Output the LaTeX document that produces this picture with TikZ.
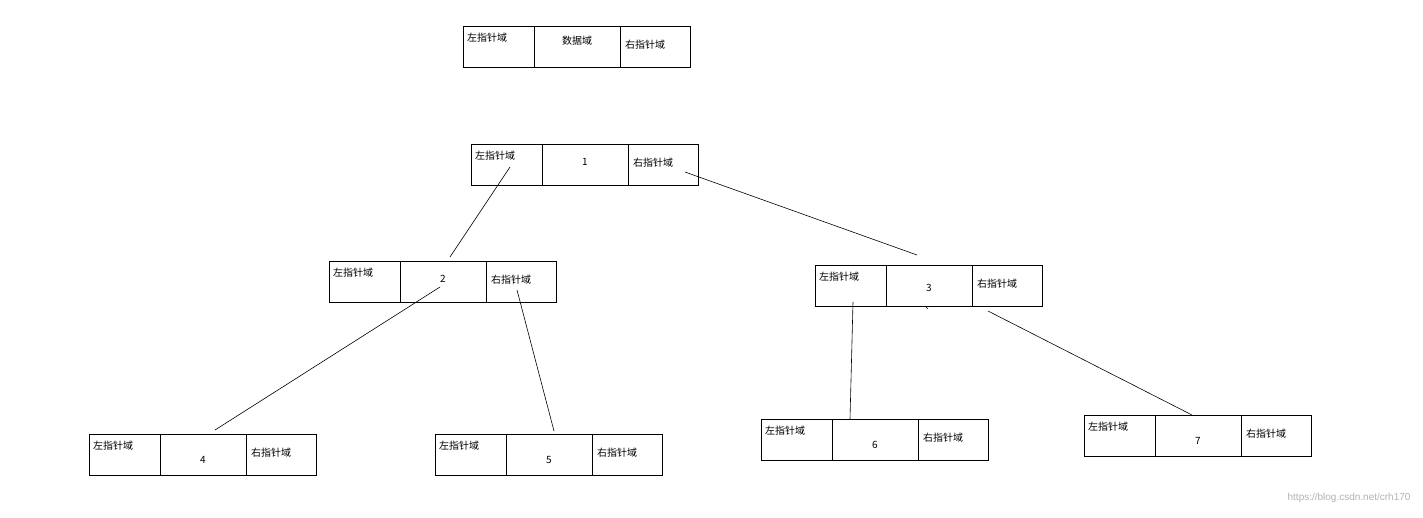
\documentclass[tikz,border=0pt]{standalone}
\usepackage{fontspec}
\newfontfamily\cjk{Noto Sans CJK SC}
\begin{document}
\begin{tikzpicture}[x=1pt,y=-1pt,
 cell/.style={draw,line width=0.8pt,minimum height=41pt,anchor=north west,inner sep=0pt},
 txt/.style={font=\cjk\fontsize{10}{12}\selectfont,inner sep=0pt},
 edge/.style={line width=0.6pt}]
\useasboundingbox (0,0) rectangle (1423,517);
\newcommand{\tbox}[5]{%
 \node[cell,minimum width=71pt] (#1l) at (#2,#3) {};
 \node[cell,minimum width=86pt] (#1m) at (#2+71,#3) {};
 \node[cell,minimum width=70pt] (#1r) at (#2+157,#3) {};
 \node[txt,anchor=west] (#1lt) at (#2+4,#3+12) {左指针域};
 \node[txt] (#1mt) at (#2+114,#3+#5) {#4};
 \node[txt,anchor=west] (#1rt) at (#2+162,#3+19) {右指针域};
}
\tbox{t}{463}{26}{数据域}{15}
\tbox{a}{471}{144}{1}{18}
\tbox{b}{329}{261}{2}{18}
\tbox{c}{815}{265}{3}{23}
\tbox{d}{89}{434}{4}{26}
\tbox{e}{435}{434}{5}{26}
\tbox{f}{761}{419}{6}{26}
\tbox{g}{1084}{415}{7}{26}
\coordinate (a1) at (510,167); \coordinate (b1) at (450,257);
\coordinate (a2) at (685,172); \coordinate (c1) at (917,255);
\coordinate (b2) at (440,287); \coordinate (d1) at (215,430);
\coordinate (b3) at (517,290); \coordinate (e1) at (554,431);
\coordinate (c2) at (853,302); \coordinate (f1) at (850,419);
\coordinate (c3) at (988,311); \coordinate (g1) at (1192,415);
\coordinate (c4) at (925,306); \coordinate (c5) at (928,309);
\draw[edge] (a1)--(b1); \draw[edge] (a2)--(c1); \draw[edge] (b2)--(d1);
\draw[edge] (b3)--(e1); \draw[edge] (c2)--(f1); \draw[edge] (c3)--(g1);
\draw[edge] (c4)--(c5);
\node[font=\fontspec{Liberation Sans}\fontsize{10}{12}\selectfont,text=gray!60,anchor=east] (wm) at (1414,498) {https://blog.csdn.net/crh170};
\end{tikzpicture}
\end{document}
